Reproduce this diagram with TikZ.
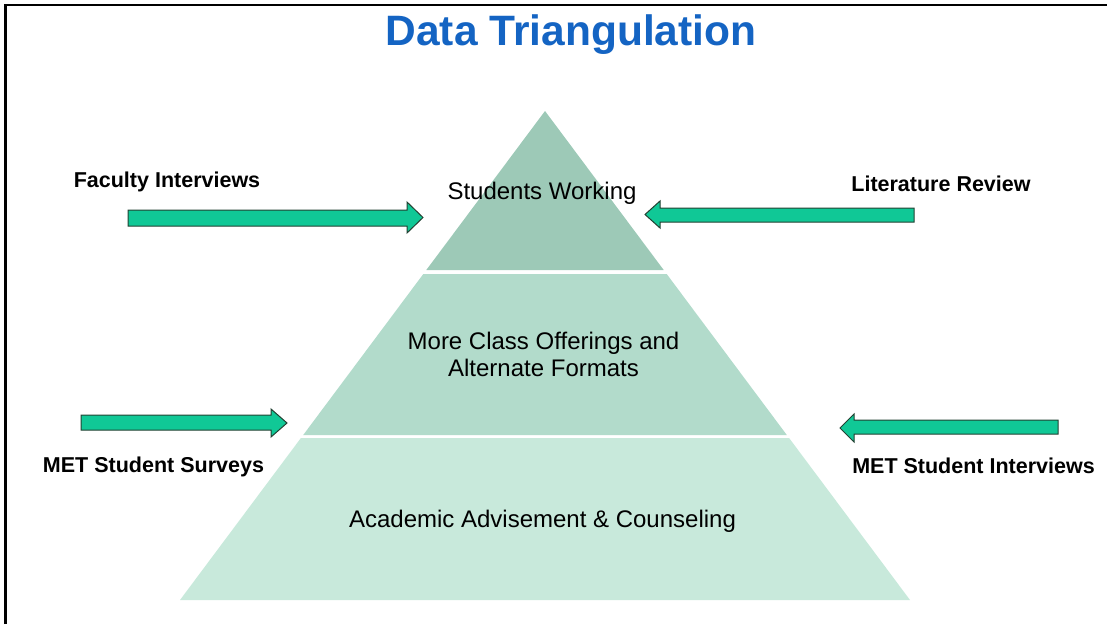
\documentclass[tikz,border=0pt]{standalone}
\usepackage{fontspec}
\setmainfont{Liberation Sans}
\definecolor{tierTop}{RGB}{157,201,183}
\definecolor{tierMid}{RGB}{178,219,203}
\definecolor{tierLow}{RGB}{200,233,219}
\definecolor{arrowFill}{RGB}{16,200,150}
\definecolor{arrowLine}{RGB}{35,65,50}
\definecolor{titleBlue}{RGB}{20,100,195}

\begin{document}
\begin{tikzpicture}[x=1pt,y=-1pt]
    \tikzset{blockarrow/.style={fill=arrowFill,draw=arrowLine,line width=1pt,line join=miter},
      source/.style={font=\fontsize{21.5}{25}\selectfont\bfseries,inner sep=0pt,anchor=base},
      tiertext/.style={font=\fontsize{24}{27}\selectfont,align=center,inner sep=0pt}}
    \useasboundingbox (0,0) rectangle (1107,624);
    \draw[line width=2.2pt] (5.5,624) -- (5.5,5) -- (1107,5);
    % pyramid
    \fill[tierTop] (545,111) -- (663.7,270) -- (426.3,270) -- cycle;
    \fill[tierMid] (423.3,274) -- (666.7,274) -- (786.8,435) -- (303.2,435) -- cycle;
    \fill[tierLow] (300.9,438) -- (789.1,438) -- (910,600) -- (180,600) -- cycle;
    \node[anchor=base,inner sep=0pt,text=titleBlue,font=\fontsize{42.5}{46}\selectfont\bfseries] (title) at (571,45) {Data Triangulation};
    \node[tiertext,anchor=base] (working) at (542,199) {Students Working};
    \node[tiertext,anchor=north] (offerings) at (543.5,332) {More Class Offerings and\\Alternate Formats};
    \node[tiertext,anchor=base] (advisement) at (542.5,527) {Academic Advisement \& Counseling};
    % sources
    \node[source] (faculty) at (167,187) {Faculty Interviews};
    \node[source] (literature) at (941,191) {Literature Review};
    \node[source] (surveys) at (153.5,472) {MET Student Surveys};
    \node[source] (interviews) at (973.5,473) {MET Student Interviews};
    \draw[blockarrow] (128,210) -- (407,210) -- (407,202) -- (423,217.5) -- (407,233) -- (407,226) -- (128,226) -- cycle;
    \draw[blockarrow] (914,208) -- (660,208) -- (660,201) -- (645,214.5) -- (660,228) -- (660,222) -- (914,222) -- cycle;
    \draw[blockarrow] (81,415) -- (271,415) -- (271,409) -- (287,423) -- (271,437) -- (271,430) -- (81,430) -- cycle;
    \draw[blockarrow] (1058,420) -- (854,420) -- (854,414) -- (840,428) -- (854,442) -- (854,434) -- (1058,434) -- cycle;
\end{tikzpicture}
\end{document}
